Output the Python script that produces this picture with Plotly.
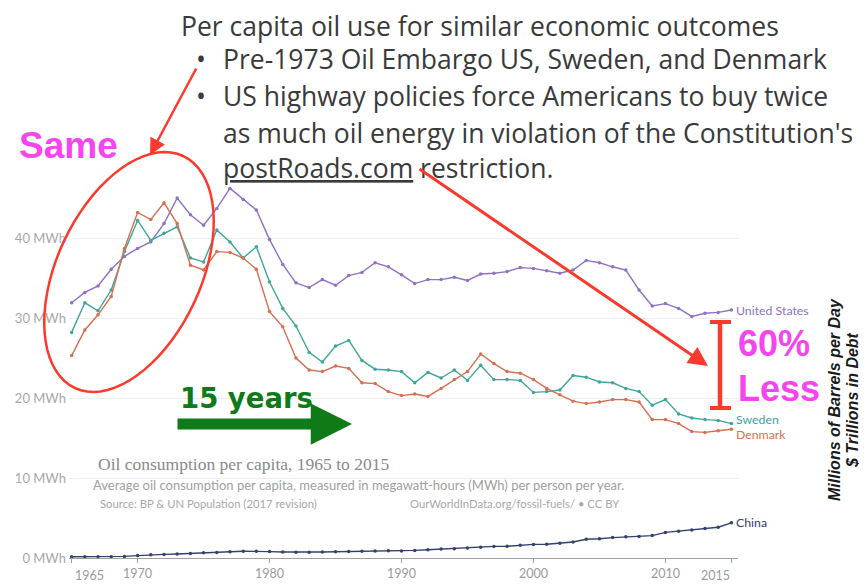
import math
import plotly.graph_objects as go

# ---------------- data ----------------
years = list(range(1965, 2016))

us = [31.9, 33.2, 34.0, 36.1, 37.7, 38.7, 39.5, 41.8, 45.0, 42.9,
      41.6, 43.7, 46.2, 44.8, 43.5, 39.8, 36.7, 34.4, 33.8, 34.8,
      34.1, 35.3, 35.7, 36.9, 36.4, 35.4, 34.3, 34.8, 34.8, 35.1,
      34.7, 35.5, 35.6, 35.8, 36.3, 36.2, 35.9, 35.6, 36.0, 37.2,
      36.9, 36.4, 36.0, 33.5, 31.5, 31.8, 31.2, 30.2, 30.6, 30.7, 31.0]

sweden = [28.2, 31.9, 30.9, 33.5, 38.3, 42.2, 39.7, 40.6, 41.4, 37.5,
          37.0, 41.0, 39.5, 37.5, 38.9, 34.5, 31.2, 29.0, 25.7, 24.5,
          26.5, 27.2, 24.7, 23.6, 23.5, 23.3, 21.9, 23.2, 22.5, 23.5,
          22.2, 24.1, 22.3, 22.3, 22.2, 20.7, 20.8, 21.0, 22.8, 22.6,
          22.0, 21.9, 21.2, 20.8, 19.1, 19.8, 18.0, 17.5, 17.3, 17.2, 16.8]

denmark = [25.3, 28.5, 30.4, 32.7, 38.7, 43.2, 42.3, 44.4, 41.8, 36.6,
           36.0, 38.3, 38.2, 37.5, 36.1, 30.8, 28.9, 25.0, 23.5, 23.3,
           24.0, 23.7, 21.9, 21.8, 20.8, 20.3, 20.5, 20.2, 21.2, 22.3,
           23.3, 25.5, 24.3, 23.3, 23.1, 22.3, 21.2, 20.4, 19.6, 19.3,
           19.5, 19.8, 19.8, 19.5, 17.3, 17.3, 16.8, 15.8, 15.7, 15.9, 16.1]

china = [0.15, 0.17, 0.15, 0.16, 0.20, 0.30, 0.40, 0.45, 0.50, 0.55,
         0.65, 0.70, 0.78, 0.85, 0.85, 0.80, 0.75, 0.72, 0.72, 0.75,
         0.78, 0.80, 0.83, 0.88, 0.90, 0.88, 0.95, 1.03, 1.12, 1.15,
         1.25, 1.35, 1.45, 1.47, 1.60, 1.70, 1.72, 1.85, 2.00, 2.35,
         2.40, 2.55, 2.65, 2.70, 2.80, 3.20, 3.35, 3.50, 3.70, 3.85, 4.40]

series_names = ["United States", "Sweden", "Denmark", "China"]
series_colors = ["#8e72c6", "#3fa59b", "#d4704f", "#33416b"]
label_yshift = [0, 4, -5, 0]

x_tick_vals = [1965, 1970, 1980, 1990, 2000, 2010, 2015]
x_tick_text = ["", "1970", "1980", "1990", "2000", "2010", ""]
edge_years = [1965, 2015]
edge_labels = ["1965", "2015"]
y_tick_vals = [0, 10, 20, 30, 40]
y_tick_text = ["0 MWh", "10 MWh", "20 MWh", "30 MWh", "40 MWh"]

# ---------------- geometry (screen pixels; page has an 8px body offset) ----------------
FW, FH = 867, 585
OFF = 8
L, R, T, B = 69, 738, 174, 558          # plot area in screen pixels
W, H = R - L, B - T


def px(x):
    return (x - L) / W


def py(y):
    return (B - y) / H


fig = go.Figure()
annotations = []
shapes = []

for name, vals, col, ys in zip(series_names, [us, sweden, denmark, china], series_colors, label_yshift):
    fig.add_trace(go.Scatter(
        x=years, y=vals, mode="lines+markers", name=name,
        line=dict(color=col, width=1.4),
        marker=dict(color=col, size=3.5),
        cliponaxis=False, showlegend=False,
    ))
    annotations.append(dict(x=years[-1], y=vals[-1], xref="x", yref="y",
                            text=name, showarrow=False, xanchor="left", yanchor="middle",
                            xshift=3, yshift=ys, font=dict(family="Lato", size=12.3, color=col)))

# edge year labels (nudged inward like the original)
for yr, lab, sh in zip(edge_years, edge_labels, [18, -16]):
    annotations.append(dict(x=yr, y=py(575), xref="x", yref="paper", text=lab, xshift=sh,
                            showarrow=False, xanchor="center", yanchor="middle",
                            font=dict(family="Lato", size=12.5, color="#9a9a9a")))

# ---------- top text block ----------
TXT = "#3a3a3a"
TF = "Open Sans"
top = [
    (180, 25.5, "Per capita oil use for similar economic outcomes"),
    (195, 59, "•"),
    (222, 59, "Pre-1973 Oil Embargo US, Sweden, and Denmark"),
    (195, 96, "•"),
    (222, 96, "US highway policies force Americans to buy twice"),
    (222, 133, "as much oil energy in violation of the Constitution's"),
    (222, 168, "<span style='text-decoration:underline'>postRoads.com</span> restriction."),
]
for xx, yy, txt in top:
    annotations.append(dict(x=px(xx), y=py(yy), text=txt, xref="paper", yref="paper",
                            xanchor="left", yanchor="middle", showarrow=False, borderpad=0,
                            font=dict(family=TF, size=26.5, color=TXT)))

MAG = "#f545f0"
RED = "#fa3a2c"
GREEN = "#0e7a18"

extra = [
    dict(x=px(17), y=py(146), text="<b>Same</b>", font=dict(family="Liberation Sans", size=37, color=MAG)),
    dict(x=px(736), y=py(343), text="<b>60%</b>", font=dict(family="Liberation Sans", size=36, color=MAG)),
    dict(x=px(736), y=py(388), text="<b>Less</b>", font=dict(family="Liberation Sans", size=36, color=MAG)),
    dict(x=px(178), y=py(398), text="<b>15 years</b>", font=dict(family="DejaVu Sans", size=27.5, color=GREEN)),
    dict(x=px(96), y=py(464), text="Oil consumption per capita, 1965 to 2015",
         font=dict(family="Liberation Serif", size=17.5, color="#8a8a8a")),
    dict(x=px(91), y=py(485),
         text="Average oil consumption per capita, measured in megawatt-hours (MWh) per person per year.",
         font=dict(family="Lato", size=13, color="#a0a0a0")),
    dict(x=px(98), y=py(503), text="Source: BP & UN Population (2017 revision)",
         font=dict(family="Lato", size=11.3, color="#a8a8a8")),
    dict(x=px(408), y=py(503), text="OurWorldInData.org/fossil-fuels/ • CC BY",
         font=dict(family="Lato", size=11.3, color="#a8a8a8")),
]
for a in extra:
    a.update(xref="paper", yref="paper", xanchor="left", yanchor="middle", showarrow=False)
annotations += extra

# rotated right-side labels
for xx, txt in [(834, "Millions of Barrels per Day"), (852, "$ Trillions in Debt")]:
    annotations.append(dict(x=px(xx), y=py(400), xref="paper", yref="paper", text="<b><i>" + txt + "</i></b>",
                            textangle=-90, showarrow=False, xanchor="center", yanchor="middle",
                            font=dict(family="Liberation Sans", size=16, color="#1a1a1a")))


def arrow(tip, tail, color, width, head=2, size=1.0):
    return dict(x=px(tip[0]), y=py(tip[1]), xref="paper", yref="paper",
                ax=tail[0] - tip[0], ay=tail[1] - tip[1], axref="pixel", ayref="pixel",
                text="", showarrow=True, arrowhead=head, arrowsize=size,
                arrowwidth=width, arrowcolor=color, standoff=0, startstandoff=0)


annotations.append(arrow((150, 155), (197, 67), RED, 2.5, 2, 1.3))
annotations.append(arrow((708, 366), (418, 168), RED, 3, 2, 1.3))
annotations.append(arrow((352, 424), (176, 424), GREEN, 11, 2, 0.75))

# tilted ellipse around the early years
cx, cy, A, Bm, th = 129, 272, 128, 72, math.radians(25)
pts = []
for k in range(73):
    t = 2 * math.pi * k / 72
    ux, uy = math.sin(th), -math.cos(th)
    vx, vy = math.cos(th), math.sin(th)
    X = cx + A * math.cos(t) * ux + Bm * math.sin(t) * vx
    Y = cy + A * math.cos(t) * uy + Bm * math.sin(t) * vy
    pts.append((px(X), py(Y)))
path = "M " + " L ".join(f"{a:.5f},{b:.5f}" for a, b in pts) + " Z"
shapes.append(dict(type="path", path=path, xref="paper", yref="paper",
                   line=dict(color=RED, width=2.5)))

# I-beam
shapes.append(dict(type="line", xref="paper", yref="paper", x0=px(720), x1=px(720), y0=py(322), y1=py(408),
                   line=dict(color=RED, width=4.5)))
for yy in (322, 408):
    shapes.append(dict(type="line", xref="paper", yref="paper", x0=px(710), x1=px(731), y0=py(yy), y1=py(yy),
                       line=dict(color=RED, width=4)))

fig.update_layout(
    width=FW, height=FH,
    margin=dict(l=L - OFF, r=FW - (R - OFF), t=T - OFF, b=FH - (B - OFF), autoexpand=False),
    paper_bgcolor="white", plot_bgcolor="white",
    annotations=annotations, shapes=shapes,
    xaxis=dict(range=[1964.8, 2015.5], tickmode="array", tickvals=x_tick_vals, ticktext=x_tick_text,
               showgrid=False, zeroline=False, showline=True, linecolor="#a0a0a0", linewidth=1,
               ticks="outside", ticklen=4, tickcolor="#a0a0a0", automargin=False,
               tickfont=dict(family="Lato", size=12.5, color="#9a9a9a")),
    yaxis=dict(range=[0, 48], tickmode="array", tickvals=y_tick_vals, ticktext=y_tick_text,
               showgrid=True, gridcolor="#ececec", gridwidth=1, zeroline=False, automargin=False,
               ticklabelstandoff=2,
               tickfont=dict(family="Lato", size=13, color="#a8a8a8")),
)

fig.write_html("out.html")
